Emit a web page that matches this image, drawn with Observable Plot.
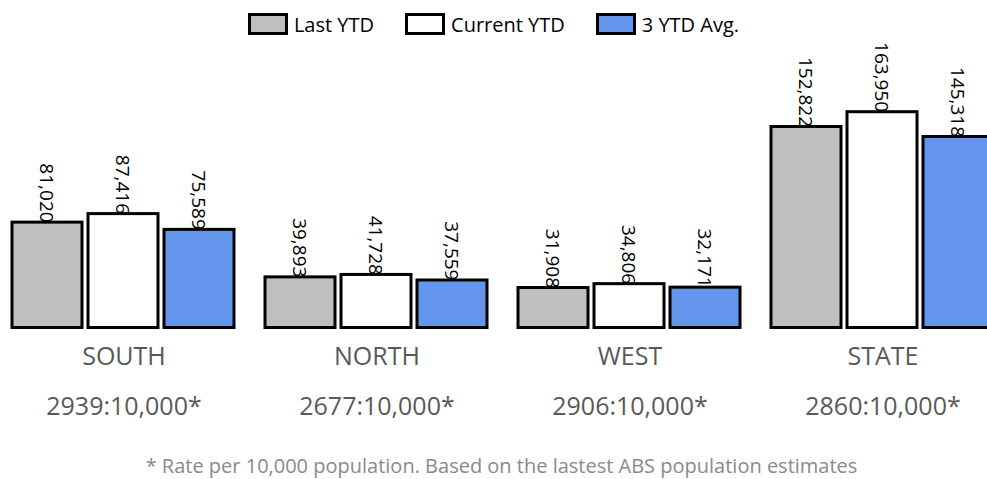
<!DOCTYPE html>
<html>
<head>
<meta charset="utf-8">
<script src="https://cdn.jsdelivr.net/npm/d3@7"></script>
<script src="https://cdn.jsdelivr.net/npm/@observablehq/plot@0.6"></script>
<style>
  html, body { margin: 0; padding: 0; background: #fff; overflow: hidden; }
  body { width: 987px; height: 479px; font-family: "Open Sans", sans-serif; }
  #legend { position: relative; z-index: 2; height: 48px; display: flex; justify-content: center; align-items: center; gap: 31px; font-size: 20px; color: #000; }
  #legend .item { display: flex; align-items: center; gap: 6px; }
  #legend .sw { box-sizing: border-box; width: 40px; height: 22px; border: 3.5px solid #000; }
  #chart { position: relative; z-index: 1; margin-top: -20px; }
  #foot { box-sizing: border-box; padding-left: 16px; height: 31px; line-height: 36px; text-align: center; font-size: 20px; color: #8a8a8a; }
</style>
</head>
<body>
<div id="legend"></div>
<div id="chart"></div>
<div id="foot">* Rate per 10,000 population. Based on the lastest ABS population estimates</div>
<script>
const groups = ["SOUTH", "NORTH", "WEST", "STATE"];
const rates = ["2939:10,000*", "2677:10,000*", "2906:10,000*", "2860:10,000*"];
const series = ["Last YTD", "Current YTD", "3 YTD Avg."];
const lastYTD = [81020, 39893, 31908, 152822];
const currentYTD = [87416, 41728, 34806, 163950];
const avg3YTD = [75589, 37559, 32171, 145318];
const colors = ["#bfbfbf", "#ffffff", "#6495ed"];

const valuesBySeries = [lastYTD, currentYTD, avg3YTD];
const data = [];
groups.forEach((g, i) => {
  series.forEach((s, j) => data.push({group: g, series: s, value: valuesBySeries[j][i]}));
});
const groupRows = groups.map((g, i) => ({group: g, rate: rates[i]}));

// legend
const legend = document.getElementById("legend");
series.forEach((s, j) => {
  const item = document.createElement("div");
  item.className = "item";
  const sw = document.createElement("div");
  sw.className = "sw";
  sw.style.background = colors[j];
  const t = document.createElement("span");
  t.textContent = s;
  item.append(sw, t);
  legend.append(item);
});

const fmt = d3.format(",");
const chart = Plot.plot({
  width: 987,
  height: 420,
  marginTop: 35.7,
  marginBottom: 118,
  marginLeft: 0,
  marginRight: 0,
  style: {fontFamily: "Open Sans, sans-serif", overflow: "hidden", background: "transparent"},
  fx: {domain: groups, range: [9.8, 996.3], paddingInner: 0.1115, paddingOuter: 0, axis: null, label: null},
  x: {domain: series, paddingInner: 0.075, paddingOuter: 0, axis: null, label: null},
  y: {domain: [0, 200000], axis: null},
  color: {domain: series, range: colors},
  marks: [
    Plot.barY(data, {fx: "group", x: "series", y: "value", fill: "series", stroke: "#000", strokeWidth: 3, insetBottom: 2.5}),
    Plot.text(data, {fx: "group", x: "series", y: "value", text: d => fmt(d.value), rotate: 90, textAnchor: "end", lineAnchor: "middle", fontSize: 19, fill: "#000", dx: -1}),
    Plot.text(groupRows, {fx: "group", text: "group", frameAnchor: "bottom", dy: 26, lineAnchor: "middle", fontSize: 25, fill: "#595959"}),
    Plot.text(groupRows, {fx: "group", text: "rate", frameAnchor: "bottom", dy: 76, lineAnchor: "middle", fontSize: 25, fill: "#595959"})
  ]
});
document.getElementById("chart").append(chart);
</script>
</body>
</html>
